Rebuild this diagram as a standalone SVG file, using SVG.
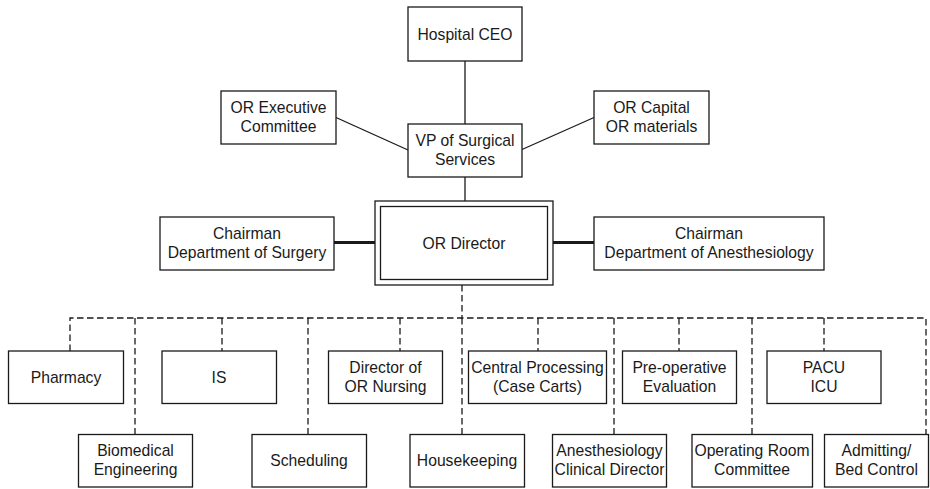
<svg xmlns="http://www.w3.org/2000/svg" width="930" height="489" viewBox="0 0 930 489">
<style>
.box{fill:#fff;stroke:#1a1a1a;stroke-width:1.3}
.t{font-family:"Liberation Sans",Arial,sans-serif;font-size:15.7px;fill:#1a1a1a;text-anchor:middle}
.solid{stroke:#1a1a1a;stroke-width:1.3;fill:none}
.thick{stroke:#1a1a1a;stroke-width:3;fill:none}
.dash{stroke:#1a1a1a;stroke-width:1.3;fill:none;stroke-dasharray:6.5 3.5}
</style>
<rect width="930" height="489" fill="#fff"/>
<g id="connectors">
<line class="solid" x1="465" y1="61" x2="465" y2="124"/>
<line class="solid" x1="336" y1="117.5" x2="408" y2="150"/>
<line class="solid" x1="522" y1="149.5" x2="594" y2="117.5"/>
<line class="solid" x1="465" y1="177" x2="465" y2="201"/>
<line class="thick" x1="334" y1="242.5" x2="375" y2="242.5"/>
<line class="thick" x1="553" y1="242.5" x2="594" y2="242.5"/>
<line class="dash" x1="462" y1="285" x2="462" y2="318"/>
<path class="dash" d="M70 351 V318 H926 V434"/>
<line class="dash" x1="135" y1="318" x2="135" y2="434"/>
<line class="dash" x1="222" y1="318" x2="222" y2="351"/>
<line class="dash" x1="308" y1="318" x2="308" y2="434"/>
<line class="dash" x1="400" y1="318" x2="400" y2="351"/>
<line class="dash" x1="462" y1="318" x2="462" y2="434"/>
<line class="dash" x1="538" y1="318" x2="538" y2="351"/>
<line class="dash" x1="614" y1="318" x2="614" y2="434"/>
<line class="dash" x1="679" y1="318" x2="679" y2="351"/>
<line class="dash" x1="752" y1="318" x2="752" y2="434"/>
<line class="dash" x1="824" y1="318" x2="824" y2="351"/>
</g>
<g id="ceo"><rect class="box" x="408" y="7" width="114" height="54"/><text class="t" x="465" y="39.5">Hospital CEO</text></g>
<g id="exec"><rect class="box" x="221" y="91" width="115" height="53"/><text class="t" x="278.5" y="112.5">OR Executive</text><text class="t" x="278.5" y="131.5">Committee</text></g>
<g id="vp"><rect class="box" x="408" y="124" width="114" height="53"/><text class="t" x="465" y="146">VP of Surgical</text><text class="t" x="465" y="165">Services</text></g>
<g id="capital"><rect class="box" x="594" y="91" width="115" height="53"/><text class="t" x="651.5" y="112.5">OR Capital</text><text class="t" x="651.5" y="131.5">OR materials</text></g>
<g id="surgery"><rect class="box" x="160" y="217" width="174" height="53"/><text class="t" x="247" y="239">Chairman</text><text class="t" x="247" y="258">Department of Surgery</text></g>
<g id="director"><rect class="box" x="375" y="201" width="178" height="84"/><rect class="box" x="380.5" y="206.5" width="167" height="73"/><text class="t" x="464" y="248.5">OR Director</text></g>
<g id="anesth"><rect class="box" x="594" y="217" width="230" height="53"/><text class="t" x="709" y="239">Chairman</text><text class="t" x="709" y="258">Department of Anesthesiology</text></g>
<g id="pharmacy"><rect class="box" x="8.5" y="351" width="115" height="52.5"/><text class="t" x="66" y="383">Pharmacy</text></g>
<g id="is"><rect class="box" x="162" y="351" width="114.5" height="52.5"/><text class="t" x="219" y="383">IS</text></g>
<g id="nursing"><rect class="box" x="328.5" y="351" width="114" height="52.5"/><text class="t" x="385.5" y="373">Director of</text><text class="t" x="385.5" y="392">OR Nursing</text></g>
<g id="central"><rect class="box" x="468.5" y="351" width="138" height="52.5"/><text class="t" x="537.5" y="373">Central Processing</text><text class="t" x="537.5" y="392">(Case Carts)</text></g>
<g id="preop"><rect class="box" x="622.5" y="351" width="114" height="52.5"/><text class="t" x="679.5" y="373">Pre-operative</text><text class="t" x="679.5" y="392">Evaluation</text></g>
<g id="pacu"><rect class="box" x="767" y="351" width="114" height="52.5"/><text class="t" x="824" y="373">PACU</text><text class="t" x="824" y="392">ICU</text></g>
<g id="biomed"><rect class="box" x="78.5" y="434.5" width="114" height="52.5"/><text class="t" x="135.5" y="456">Biomedical</text><text class="t" x="135.5" y="475">Engineering</text></g>
<g id="scheduling"><rect class="box" x="252" y="434.5" width="114.5" height="52.5"/><text class="t" x="309" y="466">Scheduling</text></g>
<g id="housekeeping"><rect class="box" x="410" y="434.5" width="114.5" height="52.5"/><text class="t" x="467" y="466">Housekeeping</text></g>
<g id="clinical"><rect class="box" x="552.5" y="434.5" width="114" height="52.5"/><text class="t" x="609.5" y="456">Anesthesiology</text><text class="t" x="609.5" y="475">Clinical Director</text></g>
<g id="orcommittee"><rect class="box" x="692" y="434.5" width="120.5" height="52.5"/><text class="t" x="752" y="456">Operating Room</text><text class="t" x="752" y="475">Committee</text></g>
<g id="admitting"><rect class="box" x="824.5" y="434.5" width="104" height="52.5"/><text class="t" x="876.5" y="456">Admitting/</text><text class="t" x="876.5" y="475">Bed Control</text></g>
</svg>
